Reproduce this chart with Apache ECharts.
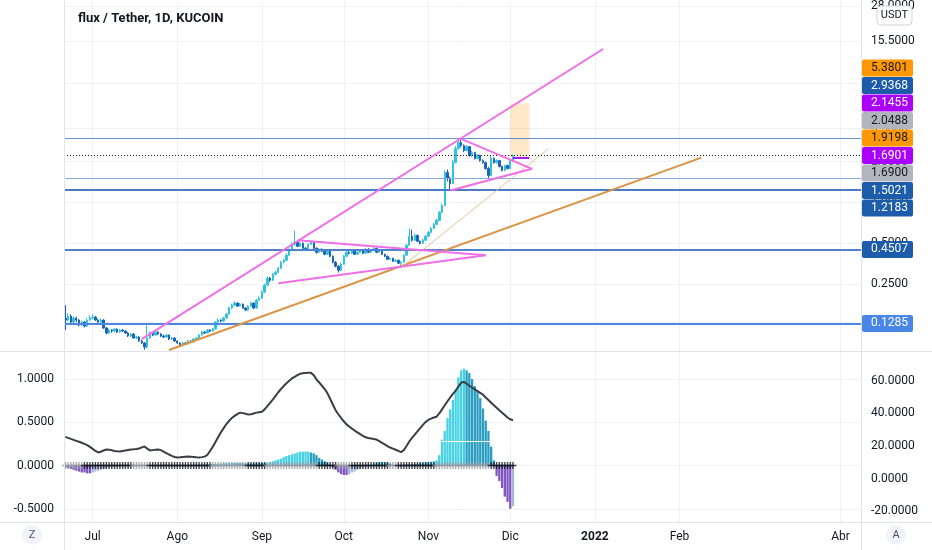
<!DOCTYPE html>
<html><head><meta charset="utf-8">
<script src="https://cdn.jsdelivr.net/npm/echarts@6/dist/echarts.min.js"></script>
<style>html,body{margin:0;padding:0;background:#fff}#c{width:932px;height:550px}</style>
</head><body><div id="c"></div>
<script>
// ---------- DATA ----------
const startDate = '2021-06-21', endDate = '2022-04-08';
const monthTicks = ['2021-07-01','2021-08-01','2021-09-01','2021-10-01','2021-11-01','2021-12-01','2022-01-01','2022-02-01','2022-04-01'];
const monthNames = ['Jul','Ago','Sep','Oct','Nov','Dic','2022','Feb','Abr'];
// daily candles from 2021-06-21: [open, close, low, high]
const ohlc = [
[0.1407,0.1360,0.1149,0.1753],[0.1360,0.1456,0.1330,0.1530],[0.1456,0.1315,0.1290,0.1500],[0.1315,0.1407,0.1290,0.1450],
[0.1407,0.1360,0.1320,0.1440],[0.1360,0.1250,0.1220,0.1390],[0.1250,0.1315,0.1230,0.1350],[0.1315,0.1229,0.1200,0.1340],
[0.1229,0.1360,0.1210,0.1400],[0.1360,0.1407,0.1340,0.1480],[0.1407,0.1431,0.1370,0.1490],[0.1431,0.1360,0.1340,0.1460],
[0.1360,0.1315,0.1290,0.1390],[0.1315,0.1360,0.1280,0.1400],[0.1360,0.1188,0.1170,0.1380],[0.1188,0.1092,0.1070,0.1210],
[0.1092,0.1149,0.1080,0.1180],[0.1149,0.1129,0.1100,0.1170],[0.1129,0.1168,0.1110,0.1190],[0.1168,0.1110,0.1090,0.1180],
[0.1110,0.1149,0.1095,0.1170],[0.1149,0.1129,0.1110,0.1170],[0.1129,0.1092,0.1075,0.1150],[0.1092,0.1038,0.1020,0.1110],
[0.1038,0.1073,0.1020,0.1090],[0.1073,0.1003,0.0990,0.1090],[0.1003,0.1020,0.0985,0.1045],[0.1020,0.0954,0.0940,0.1035],
[0.0954,0.0922,0.0905,0.0975],[0.0922,0.0861,0.0822,0.0935],[0.0861,0.1003,0.0840,0.1293],[0.1003,0.1092,0.0990,0.1120],
[0.1092,0.1055,0.1035,0.1110],[0.1055,0.1110,0.1040,0.1135],[0.1110,0.1073,0.1055,0.1125],[0.1073,0.1038,0.1020,0.1090],
[0.1038,0.1020,0.1000,0.1060],[0.1020,0.1055,0.1005,0.1075],[0.1055,0.0986,0.0970,0.1065],[0.0986,0.1003,0.0972,0.1025],
[0.1003,0.0954,0.0940,0.1015],[0.0954,0.0922,0.0905,0.0965],[0.0922,0.0891,0.0875,0.0935],[0.0891,0.0922,0.0880,0.0940],
[0.0922,0.0906,0.0890,0.0935],[0.0906,0.0954,0.0898,0.0970],[0.0954,0.0938,0.0925,0.0965],[0.0938,0.0986,0.0930,0.1000],
[0.0986,0.1003,0.0970,0.1025],[0.1003,0.1055,0.0995,0.1075],[0.1055,0.1110,0.1045,0.1135],[0.1110,0.1092,0.1075,0.1125],
[0.1092,0.1149,0.1085,0.1170],[0.1149,0.1129,0.1110,0.1165],[0.1129,0.1168,0.1120,0.1190],[0.1168,0.1315,0.1160,0.1340],
[0.1315,0.1360,0.1300,0.1400],[0.1360,0.1338,0.1310,0.1380],[0.1338,0.1407,0.1325,0.1440],[0.1407,0.1506,0.1395,0.1540],
[0.1506,0.1667,0.1490,0.1710],[0.1667,0.1753,0.1640,0.1800],[0.1753,0.1814,0.1720,0.1870],[0.1814,0.1724,0.1700,0.1840],
[0.1724,0.1783,0.1705,0.1820],[0.1783,0.1667,0.1645,0.1800],[0.1667,0.1611,0.1590,0.1690],[0.1611,0.1724,0.1600,0.1760],
[0.1724,0.1814,0.1710,0.1850],[0.1814,0.1667,0.1640,0.1830],[0.1667,0.1907,0.1650,0.1950],[0.1907,0.1973,0.1880,0.2030],
[0.1973,0.2184,0.1950,0.2250],[0.2184,0.2458,0.2150,0.2530],[0.2458,0.2767,0.2420,0.2850],[0.2767,0.2675,0.2600,0.2830],
[0.2675,0.2961,0.2640,0.3030],[0.2961,0.3063,0.2900,0.3140],[0.3063,0.3277,0.3010,0.3360],[0.3277,0.3627,0.3230,0.3720],
[0.3627,0.3752,0.3560,0.3850],[0.3752,0.4083,0.3700,0.4200],[0.4083,0.4443,0.4020,0.4580],[0.4443,0.4917,0.4380,0.5050],
[0.4917,0.5086,0.4800,0.6227],[0.5086,0.4753,0.4680,0.5200],[0.4753,0.5001,0.4700,0.5150],[0.5001,0.4595,0.4520,0.5080],
[0.4595,0.4443,0.4380,0.4700],[0.4443,0.4917,0.4400,0.5000],[0.4917,0.5086,0.4850,0.5260],[0.5086,0.4595,0.4520,0.5150],
[0.4595,0.4295,0.4200,0.4680],[0.4295,0.4518,0.4250,0.4620],[0.4518,0.4368,0.4300,0.4600],[0.4368,0.4152,0.4080,0.4450],
[0.4152,0.4443,0.4100,0.4550],[0.4443,0.4014,0.3950,0.4500],[0.4014,0.3627,0.3560,0.4080],[0.3627,0.3390,0.3320,0.3700],
[0.3390,0.3168,0.3040,0.3450],[0.3168,0.3507,0.3130,0.3600],[0.3507,0.4014,0.3480,0.4100],[0.4014,0.4295,0.3960,0.4380],
[0.4295,0.4223,0.4150,0.4400],[0.4223,0.4443,0.4180,0.4520],[0.4443,0.4152,0.4100,0.4500],[0.4152,0.4295,0.4100,0.4380],
[0.4295,0.4443,0.4250,0.4530],[0.4443,0.4223,0.4170,0.4500],[0.4223,0.4518,0.4180,0.4620],[0.4518,0.4295,0.4230,0.4600],
[0.4295,0.4443,0.4250,0.4550],[0.4443,0.4595,0.4400,0.4700],[0.4595,0.4295,0.4230,0.4650],[0.4295,0.4443,0.4250,0.4520],
[0.4443,0.4152,0.4100,0.4500],[0.4152,0.4014,0.3960,0.4200],[0.4014,0.3816,0.3760,0.4060],[0.3816,0.3881,0.3780,0.3950],
[0.3881,0.3689,0.3640,0.3920],[0.3689,0.3752,0.3650,0.3820],[0.3752,0.3566,0.3520,0.3790],[0.3566,0.3627,0.3448,0.3700],
[0.3627,0.4083,0.3600,0.4150],[0.4083,0.4834,0.4050,0.4950],[0.4834,0.5628,0.4800,0.6400],[0.5628,0.5261,0.5150,0.6300],
[0.5261,0.5724,0.5200,0.5900],[0.5724,0.5173,0.5100,0.5800],[0.5173,0.5001,0.4900,0.5250],[0.5001,0.5261,0.4950,0.5400],
[0.5261,0.5628,0.5200,0.5750],[0.5628,0.6020,0.5580,0.6150],[0.6020,0.6441,0.5950,0.6600],[0.6441,0.6891,0.6350,0.7050],
[0.6891,0.7373,0.6800,0.7550],[0.7373,0.8441,0.7300,0.8650],[0.8441,0.9507,0.8350,0.9800],[0.9507,1.6613,0.9400,1.7200],
[1.6613,1.5009,1.4300,1.7500],[1.5009,1.3790,1.2253,1.5500],[1.3790,1.9678,1.3600,2.0500],[1.9678,2.4942,1.9400,2.6000],
[2.4942,2.7610,2.4500,2.8500],[2.7610,2.6240,2.5500,2.9368],[2.6240,2.4111,2.3500,2.6800],[2.4111,2.5800,2.3800,2.6500],
[2.5800,2.2154,2.1800,2.6000],[2.2154,2.3308,2.1700,2.4000],[2.3308,2.1057,2.0700,2.3600],[2.1057,2.2154,2.0800,2.2800],
[2.2154,2.0356,2.0000,2.2500],[2.0356,1.9678,1.9300,2.0800],[1.9678,1.7778,1.7400,2.0000],[1.7778,1.5790,1.5021,1.8300],
[1.5790,2.1057,1.5600,2.2154],[2.1057,1.9678,1.9300,2.1500],[1.9678,2.0356,1.9300,2.0800],[2.0356,1.8390,1.8100,2.0600],
[1.8390,1.7186,1.6900,1.8700],[1.7186,1.8703,1.7000,1.9000],[1.8703,1.7778,1.7500,1.9000],[1.7778,2.0356,1.7600,2.0800],
[2.0356,2.2154,2.0100,2.2600]
];
// squeeze momentum histogram (left axis of lower pane)
const momentum = [
-0.02,-0.03,-0.04,-0.05,-0.06,-0.07,-0.08,-0.08,-0.09,-0.09,-0.08,-0.07,-0.06,-0.05,-0.04,-0.03,-0.02,-0.01,
-0.01,-0.005,0.004,0.006,0.005,0.003,-0.004,-0.006,-0.005,-0.003,0.002,0.004,0.003,-0.002,-0.004,-0.005,-0.003,0.002,0.005,0.006,0.004,0.002,-0.003,-0.005,-0.006,-0.004,-0.002,0.003,0.005,0.004,0.006,0.008,0.01,0.012,0.014,0.015,0.016,0.018,
0.02,0.022,0.025,0.027,0.028,0.03,0.03,0.028,0.026,0.025,0.024,0.022,0.024,0.026,0.028,0.03,0.028,0.027,
0.03,0.04,0.05,0.06,0.07,0.08,0.10,0.11,0.12,0.13,0.14,0.15,0.16,0.16,0.16,0.16,0.15,0.14,0.12,0.09,0.07,0.05,0.03,0.01,
-0.02,-0.05,-0.08,-0.10,-0.11,-0.11,-0.10,-0.08,-0.07,-0.05,-0.04,-0.02,-0.01,0.0,0.005,
0.01,0.03,0.04,0.04,0.04,0.03,0.02,0.01,0.0,-0.005,-0.005,0.005,0.01,0.01,0.015,0.02,0.02,0.03,0.03,0.035,0.04,0.045,0.05,
0.06,0.12,0.30,0.40,0.55,0.65,0.76,0.88,1.02,1.10,1.12,1.10,1.07,1.00,0.92,0.85,0.78,0.66,0.52,0.40,0.22,0.06,-0.12,-0.18,-0.26,-0.36,-0.42,-0.50,-0.47
];
// ADX line (right axis of lower pane)
const adx = [
25.6,25.0,24.4,23.8,23.2,22.6,22.0,21.3,20.6,19.5,18.3,17.0,16.1,16.5,17.3,17.9,17.8,17.4,17.0,16.8,
16.7,17.0,17.3,17.6,17.9,18.0,18.2,18.5,19.2,19.7,18.4,17.3,17.5,17.7,17.9,17.5,16.6,15.7,14.8,14.0,
13.3,13.0,13.1,13.3,13.5,13.6,13.5,13.3,13.1,13.0,13.2,13.5,14.5,17.0,19.5,22.5,25.5,28.5,31.0,33.5,
35.5,37.2,38.5,39.6,40.5,40.2,39.8,39.4,39.5,40.0,40.5,40.8,41.1,42.5,44.5,46.5,48.5,50.8,53.0,55.0,
56.8,58.5,60.0,61.5,62.5,63.5,64.3,64.6,64.8,64.9,64.9,63.5,60.8,59.0,57.0,55.0,52.5,49.0,45.5,42.0,
39.5,37.3,35.2,33.3,32.0,30.7,29.5,28.4,27.3,26.3,25.4,24.9,24.6,24.3,24.0,23.0,22.0,21.0,20.0,19.1,
18.4,17.7,17.0,16.3,17.5,20.0,22.8,25.0,27.0,29.0,31.0,33.0,34.8,36.0,36.8,37.5,38.0,40.0,42.5,45.0,
47.5,49.8,52.0,54.0,56.5,58.8,59.4,58.2,57.0,55.9,54.8,53.7,52.6,51.5,49.8,48.2,46.6,45.0,43.5,42.0,
40.5,39.0,37.5,36.4,35.8
];
// squeeze state runs: [length, on(1)/off(0)]
const squeezeRuns = [[7,0],[18,1],[6,0],[23,1],[13,0],[7,1],[19,0],[7,1],[5,0],[14,1],[3,0],[14,1],[20,0],[9,1]];
const adxKeyLevel = 23;
const priceTicks = [28, 15.5, 7.5, 3.5, 2, 1, 0.5, 0.25, 0.13];
const momTicks = [-0.5, 0, 0.5, 1];
const adxTicks = [-20, 0, 20, 40, 60];
const lastClose = 2.2154;
const levelLines = [
  {price: 2.9368, color: '#6593d2', width: 1},
  {price: 1.5021, color: '#86aee2', width: 1},
  {price: 1.2183, color: '#4a7cc4', width: 2},
  {price: 0.4507, color: '#4f82c8', width: 2},
  {price: 0.1285, color: '#4f86e0', width: 2}
];
const trendLines = [
  {from: ['2021-07-19', 0.0986], to: ['2022-01-04', 13.5], color: '#ee6fe6', width: 2},
  {from: ['2021-07-29', 0.0819], to: ['2022-02-09', 2.141], color: '#dc9344', width: 2},
  {from: ['2021-10-23', 0.3448], to: ['2021-12-15', 2.49], color: '#e5c09a', width: 1},
  {from: ['2021-09-14', 0.526], to: ['2021-11-22', 0.408], color: '#ee6fe6', width: 2},
  {from: ['2021-09-07', 0.2543], to: ['2021-11-22', 0.408], color: '#ee6fe6', width: 2},
  {from: ['2021-11-13', 2.9368], to: ['2021-12-09', 1.769], color: '#ee6fe6', width: 2},
  {from: ['2021-11-09', 1.2253], to: ['2021-12-09', 1.769], color: '#ee6fe6', width: 2},
  {from: ['2021-12-02', 2.1455], to: ['2021-12-08', 2.1455], color: '#a020f0', width: 2}
];
const positionBox = {from: '2021-12-01', to: '2021-12-08', entry: 2.1455, target: 5.3801};
// right-scale badges; stacked ones are ordered top->bottom, anchorLabel sits on the last price line
const stackedBadges = [
  {text: '5.3801', bg: '#ff9800', fg: '#131722'},
  {text: '2.9368', bg: '#1c5cab', fg: '#ffffff'},
  {text: '2.1455', bg: '#aa00ff', fg: '#ffffff'},
  {text: '2.0488', bg: '#b2b5be', fg: '#131722'},
  {text: '1.9198', bg: '#ff9800', fg: '#131722'},
  {text: '1.6901', bg: '#aa00ff', fg: '#ffffff'},
  {text: '1.6900', bg: '#b2b5be', fg: '#131722'},
  {text: '1.5021', bg: '#1c5cab', fg: '#ffffff'},
  {text: '1.2183', bg: '#1c5cab', fg: '#ffffff'}
];
const anchorLabel = '1.6901';
const levelBadges = [
  {price: 0.4507, text: '0.4507', bg: '#1c5cab', fg: '#ffffff'},
  {price: 0.1285, text: '0.1285', bg: '#4a86e8', fg: '#ffffff'}
];

// ---------- BUILD ----------
const lg = Math.log10;
const cats = [];
for (let t = Date.parse(startDate + 'T00:00:00Z'); t <= Date.parse(endDate + 'T00:00:00Z'); t += 86400000) {
  cats.push(new Date(t).toISOString().slice(0, 10));
}
const tickSet = new Set(monthTicks);
const nameOf = {}; monthTicks.forEach((d, i) => nameOf[d] = monthNames[i]);
const isTick = (i, v) => tickSet.has(v);

const candleData = ohlc.map(r => r.map(lg));
const momData = momentum.map((v, i) => {
  const prev = i > 0 ? momentum[i - 1] : v;
  let c;
  if (v >= 0) c = v >= prev ? '#46d2e3' : '#2a9ec0';
  else c = v <= prev ? '#7e57c2' : '#aab4d8';
  return {value: v, itemStyle: {color: c}};
});
const sq = [];
squeezeRuns.forEach(([n, on]) => { for (let k = 0; k < n; k++) sq.push(on); });
const crossData = momentum.map((v, i) => ({value: 0, itemStyle: {color: sq[i] ? '#131722' : '#9598a1'}}));

const GRID_LINE = '#eef1f6';
const FONT = 'Roboto';
const fmt4 = v => Number(v).toFixed(4);

const markLineData = [];
levelLines.forEach(l => markLineData.push({yAxis: lg(l.price), lineStyle: {color: l.color, width: l.width, type: 'solid'}}));
markLineData.push({yAxis: lg(lastClose), lineStyle: {color: '#131722', width: 1, type: [1, 2]}});
trendLines.forEach(t => markLineData.push([
  {coord: [t.from[0], lg(t.from[1])], lineStyle: {color: t.color, width: t.width, type: 'solid'}},
  {coord: [t.to[0], lg(t.to[1])]}
]));

const plusPath = 'path://M4,0H6V4H10V6H6V10H4V6H0V4H4Z';

const chart = echarts.init(document.getElementById('c'), null, {renderer: 'canvas'});
const option = {
  animation: false,
  backgroundColor: '#ffffff',
  textStyle: {fontFamily: FONT},
  title: {text: 'flux / Tether, 1D, KUCOIN', left: 73, top: 7,
    textStyle: {fontSize: 13, fontWeight: 'bold', color: '#131722', fontFamily: FONT}},
  grid: [
    {left: 64, right: 71, top: 0, height: 351},
    {left: 64, right: 71, top: 352, height: 170}
  ],
  xAxis: [
    {type: 'category', gridIndex: 0, data: cats, boundaryGap: true,
      axisLine: {show: false}, axisTick: {show: false}, axisLabel: {show: false},
      splitLine: {show: true, interval: isTick, alignWithLabel: true, lineStyle: {color: GRID_LINE, width: 1}}},
    {type: 'category', gridIndex: 1, data: cats, boundaryGap: true,
      axisLine: {show: false}, axisTick: {show: false, interval: isTick, alignWithLabel: true},
      axisLabel: {show: true, interval: isTick, margin: 9, fontSize: 12, color: '#131722', fontFamily: FONT,
        formatter: v => v === '2022-01-01' ? '{b|2022}' : (nameOf[v] || ''),
        rich: {b: {fontWeight: 'bold', fontSize: 12, color: '#131722', fontFamily: FONT}}},
      splitLine: {show: true, interval: isTick, alignWithLabel: true, lineStyle: {color: GRID_LINE, width: 1}}}
  ],
  yAxis: [
    {type: 'value', gridIndex: 0, position: 'right', min: lg(0.0805), max: lg(30.47), scale: true,
      axisLine: {show: false}, axisTick: {show: false, customValues: priceTicks.map(lg)},
      axisLabel: {show: true, customValues: priceTicks.map(lg), margin: 10, fontSize: 12, color: '#131722', fontFamily: FONT,
        formatter: v => fmt4(Math.pow(10, v))},
      splitLine: {show: true, lineStyle: {color: GRID_LINE, width: 1}}},
    {type: 'value', gridIndex: 1, position: 'left', min: -0.653, max: 1.313,
      axisLine: {show: false}, axisTick: {show: false, customValues: momTicks},
      axisLabel: {show: true, customValues: momTicks, margin: 10, fontSize: 12, color: '#131722', fontFamily: FONT, formatter: fmt4},
      splitLine: {show: true, lineStyle: {color: GRID_LINE, width: 1}}},
    {type: 'value', gridIndex: 1, position: 'right', min: -26.6, max: 77.7,
      axisLine: {show: false}, axisTick: {show: false, customValues: adxTicks},
      axisLabel: {show: true, customValues: adxTicks, margin: 10, fontSize: 12, color: '#131722', fontFamily: FONT, formatter: fmt4},
      splitLine: {show: false}}
  ],
  series: [
    {type: 'candlestick', name: 'FLUXUSDT', xAxisIndex: 0, yAxisIndex: 0, data: candleData, barWidth: '70%',
      itemStyle: {color: '#2fc4de', color0: '#1f62b8', borderColor: '#2fc4de', borderColor0: '#1f62b8', borderWidth: 1},
      markArea: {silent: true, data: [[
        {coord: [positionBox.from, lg(positionBox.target)], itemStyle: {color: 'rgba(255,152,0,0.22)'}},
        {coord: [positionBox.to, lg(positionBox.entry)]}
      ]]},
      markLine: {silent: true, symbol: ['none', 'none'], label: {show: false}, animation: false, data: markLineData}
    },
    {type: 'bar', name: 'SQZMOM', xAxisIndex: 1, yAxisIndex: 1, data: momData, barCategoryGap: '15%'},
    {type: 'scatter', name: 'squeeze', xAxisIndex: 1, yAxisIndex: 1, data: crossData, symbol: plusPath, symbolSize: 7, z: 4},
    {type: 'line', name: 'ADX', xAxisIndex: 1, yAxisIndex: 2, data: adx, showSymbol: false, z: 5,
      lineStyle: {color: '#3a3d45', width: 2},
      markLine: {silent: true, symbol: ['none', 'none'], label: {show: false},
        data: [{yAxis: adxKeyLevel, lineStyle: {color: '#ffffff', width: 1, type: 'solid'}}]}}
  ]
};
chart.setOption(option);

// ---------- chrome + price badges ----------
const g = [];
const border = '#e0e3eb';
g.push({type: 'line', shape: {x1: 0, y1: 351.5, x2: 932, y2: 351.5}, style: {stroke: border, lineWidth: 1}, z: 100});
g.push({type: 'line', shape: {x1: 0, y1: 522.5, x2: 932, y2: 522.5}, style: {stroke: border, lineWidth: 1}, z: 100});
g.push({type: 'line', shape: {x1: 64.5, y1: 0, x2: 64.5, y2: 550}, style: {stroke: border, lineWidth: 1}, z: 100});
g.push({type: 'line', shape: {x1: 861.5, y1: 0, x2: 861.5, y2: 550}, style: {stroke: border, lineWidth: 1}, z: 100});

function badge(cy, b) {
  g.push({type: 'rect', shape: {x: 862, y: cy - 8.5, width: 51, height: 17, r: 2}, style: {fill: b.bg}, z: 110});
  g.push({type: 'text', x: 871, y: cy, style: {text: b.text, fill: b.fg, fontSize: 12, fontFamily: FONT, verticalAlign: 'middle', align: 'left'}, z: 111});
}
const anchorY = chart.convertToPixel({yAxisIndex: 0}, lg(lastClose));
const aIdx = stackedBadges.findIndex(b => b.text === anchorLabel);
stackedBadges.forEach((b, k) => badge(anchorY + (k - aIdx) * 17.5, b));
levelBadges.forEach(b => badge(chart.convertToPixel({yAxisIndex: 0}, lg(b.price)), b));

// USDT button
g.push({type: 'rect', shape: {x: 877, y: 6, width: 35, height: 19, r: 4}, style: {fill: '#ffffff', stroke: '#d1d4dc', lineWidth: 1}, z: 120});
g.push({type: 'text', x: 894.5, y: 15.5, style: {text: 'USDT', fill: '#131722', fontSize: 11, fontFamily: FONT, align: 'center', verticalAlign: 'middle'}, z: 121});
// Z / A buttons
[['Z', 32], ['A', 896]].forEach(([t, cx]) => {
  g.push({type: 'circle', shape: {cx: cx, cy: 535, r: 10}, style: {fill: '#f0f3fa'}, z: 120});
  g.push({type: 'text', x: cx, y: 535, style: {text: t, fill: '#50535e', fontSize: 11, fontFamily: FONT, align: 'center', verticalAlign: 'middle'}, z: 121});
});
chart.setOption({graphic: {elements: g}});
</script>
</body></html>
